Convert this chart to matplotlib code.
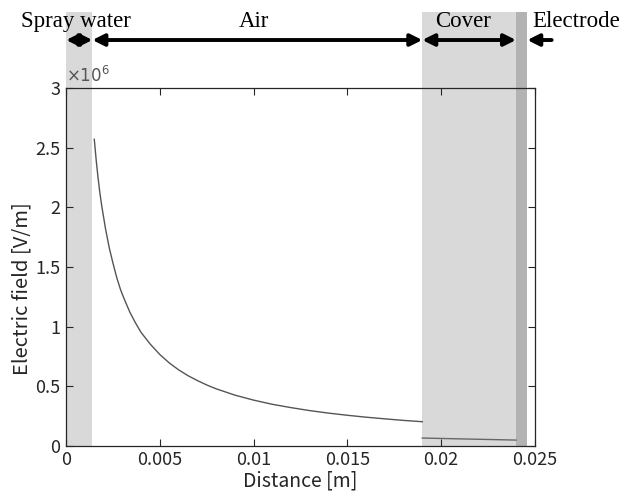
import matplotlib
matplotlib.use('Agg')
import matplotlib.pyplot as plt
from matplotlib.patches import Rectangle
from matplotlib.ticker import FuncFormatter

# electric field in the air gap
airDist = [0.0015, 0.0016, 0.0017, 0.0018, 0.0019, 0.0021, 0.0023, 0.0025,
           0.0027, 0.0029, 0.0031, 0.0034, 0.0037, 0.004, 0.0045, 0.005,
           0.0055, 0.006, 0.0065, 0.007, 0.0075, 0.008, 0.009, 0.010,
           0.011, 0.012, 0.013, 0.014, 0.015, 0.016, 0.017, 0.018, 0.019]
airField = [2.57e6, 2.40e6, 2.25e6, 2.12e6, 2.01e6, 1.82e6, 1.66e6, 1.53e6,
            1.41e6, 1.31e6, 1.23e6, 1.12e6, 1.03e6, 0.95e6, 0.85e6, 0.765e6,
            0.695e6, 0.637e6, 0.588e6, 0.547e6, 0.51e6, 0.478e6, 0.425e6, 0.383e6,
            0.348e6, 0.32e6, 0.295e6, 0.274e6, 0.256e6, 0.24e6, 0.226e6, 0.213e6, 0.202e6]
# field inside the cover
coverDist = [0.019, 0.024]
coverField = [0.065e6, 0.048e6]

# layer boundaries [m]
layerNames = ['Spray water', 'Air', 'Cover', 'Electrode']
layerEdges = [0.0, 0.0014, 0.019, 0.024, 0.0246]
labelX = [0.00053, 0.0100, 0.0212, 0.0272]

xTicks = [0, 0.005, 0.01, 0.015, 0.02, 0.025]
yTicks = [0, 0.5e6, 1e6, 1.5e6, 2e6, 2.5e6, 3e6]

sansFont = ['Noto Sans CJK JP', 'DejaVu Sans']
serifFont = ['Liberation Serif', 'DejaVu Serif']
axColor = '#262626'

fig = plt.figure(figsize=(6.24, 4.97), dpi=100)
ax = fig.add_axes([0.106, 0.103, 0.751, 0.720])

# shaded layers, drawn past the top of the axes
topY = 1.212
trans = ax.get_xaxis_transform()
shades = ['#d9d9d9', None, '#d9d9d9', '#b3b3b3']
for i in range(4):
  if shades[i] is None:
    continue
  ax.add_patch(Rectangle((layerEdges[i], 0), layerEdges[i+1] - layerEdges[i], topY,
                         transform=trans, clip_on=False, facecolor=shades[i],
                         edgecolor='none', zorder=0))

ax.plot(airDist, airField, color='#555555', lw=1.0, zorder=3)
ax.plot(coverDist, coverField, color='#666666', lw=1.0, zorder=3)

# arrows over each layer
arrowY = 1.134
for i in range(3):
  ax.annotate('', xy=(layerEdges[i], arrowY), xytext=(layerEdges[i+1], arrowY),
              xycoords=trans, textcoords=trans, annotation_clip=False,
              arrowprops=dict(arrowstyle='<|-|>,head_length=0.7,head_width=0.35',
                              color='black', lw=2.8, shrinkA=0, shrinkB=0))
ax.annotate('', xy=(layerEdges[4], arrowY), xytext=(0.0259, arrowY),
            xycoords=trans, textcoords=trans, annotation_clip=False,
            arrowprops=dict(arrowstyle='-|>,head_length=0.7,head_width=0.35',
                            color='black', lw=2.8, shrinkA=0, shrinkB=0))

for name, lx in zip(layerNames, labelX):
  ax.text(lx, 1.185, name, transform=trans, ha='center', va='center',
          fontsize=16.5, family=serifFont, color='black')

ax.set_xlim(0, 0.025)
ax.set_ylim(0, 3e6)
ax.set_xticks(xTicks)
ax.set_yticks(yTicks)
ax.xaxis.set_major_formatter(FuncFormatter(lambda v, p: '%g' % v))
ax.yaxis.set_major_formatter(FuncFormatter(lambda v, p: '%g' % (v / 1e6)))
ax.tick_params(direction='in', top=True, right=True, length=5, width=0.8,
               colors=axColor, labelsize=13, pad=4)
for lab in ax.get_xticklabels() + ax.get_yticklabels():
  lab.set_family(sansFont)
for sp in ax.spines.values():
  sp.set_color(axColor)
  sp.set_linewidth(0.9)
  sp.set_zorder(4)

ax.text(0.0, 1.005, r'$\times10^{6}$', transform=ax.transAxes, ha='left',
        va='bottom', fontsize=12, color='#555555')
ax.set_xlabel('Distance [m]', fontsize=14, family=sansFont, color=axColor, labelpad=1)
ax.set_ylabel('Electric field [V/m]', fontsize=14.5, family=sansFont, color=axColor)
ax.yaxis.set_label_coords(-0.072, 0.44)

plt.savefig('out.png')
plt.close()
